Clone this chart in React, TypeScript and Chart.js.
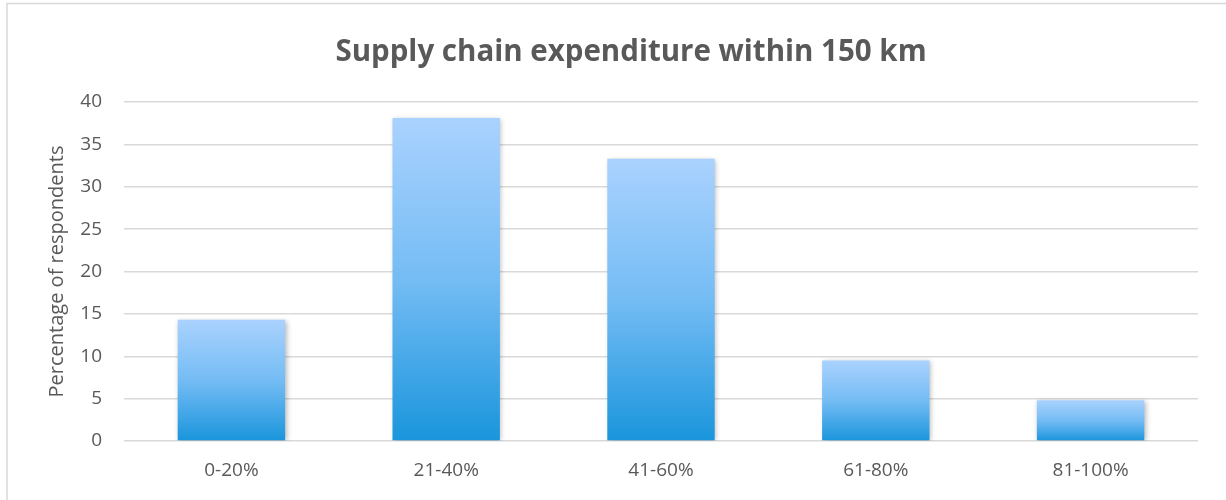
import React, { useEffect, useRef } from "react";
import { Chart, registerables } from "chart.js";

Chart.register(...registerables);

const categories = ["0-20%", "21-40%", "41-60%", "61-80%", "81-100%"];
const percentages = [14.3, 38.1, 33.3, 9.5, 4.8];
const yTicks = [0, 5, 10, 15, 20, 25, 30, 35, 40];
const titleText = "Supply chain expenditure within 150 km";
const yAxisTitle = "Percentage of respondents";

const FONT = "'Open Sans', sans-serif";
const TEXT = "#595959";

const framePlugin = {
  id: "frame",
  beforeDraw(chart: any) {
    const ctx = chart.ctx;
    ctx.save();
    ctx.fillStyle = "#ffffff";
    ctx.fillRect(0, 0, chart.width, chart.height);
    ctx.strokeStyle = "#d9d9d9";
    ctx.lineWidth = 1.5;
    ctx.strokeRect(7, 3.5, 1400, 700);
    ctx.restore();
  },
  afterDraw(chart: any) {
    const ctx = chart.ctx;
    ctx.save();
    ctx.font = `bold 29.5px ${FONT}`;
    ctx.fillStyle = TEXT;
    ctx.textAlign = "center";
    ctx.textBaseline = "middle";
    ctx.fillText(titleText, 631, 53);
    ctx.restore();
  },
};

const shadowPlugin = {
  id: "barShadow",
  beforeDatasetDraw(chart: any) {
    const ctx = chart.ctx;
    ctx.save();
    ctx.shadowColor = "rgba(0,0,0,0.28)";
    ctx.shadowBlur = 5;
    ctx.shadowOffsetX = 1.5;
    ctx.shadowOffsetY = 1;
  },
  afterDatasetDraw(chart: any) {
    chart.ctx.restore();
  },
};

export default function App() {
  const ref = useRef<HTMLCanvasElement | null>(null);
  useEffect(() => {
    if (!ref.current) return;
    const chart = new Chart(ref.current, {
      type: "bar",
      data: {
        labels: categories,
        datasets: [
          {
            data: percentages,
            barPercentage: 0.5,
            categoryPercentage: 1,
            borderWidth: 0,
            backgroundColor: (c: any) => {
              const ch = c.chart;
              const ys = ch.scales && ch.scales.y;
              if (!ys || c.raw == null) return "#6fb8f0";
              const top = ys.getPixelForValue(c.raw);
              const bottom = ys.getPixelForValue(0);
              if (!isFinite(top) || !isFinite(bottom) || top === bottom) return "#6fb8f0";
              const g = ch.ctx.createLinearGradient(0, top, 0, bottom);
              g.addColorStop(0, "#aad2fe");
              g.addColorStop(0.5, "#74bcf4");
              g.addColorStop(1, "#1a95dc");
              return g;
            },
          },
        ],
      },
      options: {
        animation: false,
        responsive: false,
        layout: { padding: { left: 0, right: 28, top: 102, bottom: 0 } },
        plugins: {
          legend: { display: false },
          tooltip: { enabled: false },
          title: { display: false },
        },
        scales: {
          x: {
            grid: { display: false, drawTicks: false },
            border: { display: false },
            ticks: {
              color: TEXT,
              font: { family: FONT, size: 19 },
              padding: 18,
            },
            afterFit(scale: any) {
              scale.height = 59;
            },
          },
          y: {
            min: 0,
            max: 40,
            afterBuildTicks(scale: any) {
              scale.ticks = yTicks.map((v) => ({ value: v }));
            },
            grid: { color: "#d9d9d9", lineWidth: 1.5, drawTicks: false },
            border: { display: false },
            ticks: {
              color: TEXT,
              font: { family: FONT, size: 19 },
              padding: 22,
            },
            title: {
              display: true,
              text: yAxisTitle,
              color: TEXT,
              font: { family: FONT, size: 20 },
              padding: { top: 45, bottom: 0 },
            },
            afterFit(scale: any) {
              scale.width = 124;
            },
          },
        },
      },
      plugins: [framePlugin, shadowPlugin],
    });
    return () => chart.destroy();
  }, []);
  return (
    <div style={{ position: "absolute", left: 0, top: 0, width: 1226, height: 500, overflow: "hidden" }}>
      <canvas ref={ref} width={1226} height={500} style={{ display: "block" }} />
    </div>
  );
}
